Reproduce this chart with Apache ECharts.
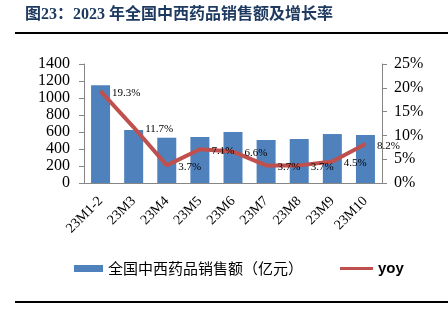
<!DOCTYPE html>
<html>
<head>
<meta charset="utf-8">
<script src="https://cdn.jsdelivr.net/npm/echarts@6/dist/echarts.min.js"></script>
<style>
  html, body { margin: 0; padding: 0; background: #fff; }
  #chart { width: 448px; height: 323px; }
</style>
</head>
<body>
<div id="chart"></div>
<script>
// Monthly national pharmaceutical sales, 2023 (100 million yuan) and YoY growth (%)
const categories = ['23M1-2', '23M3', '23M4', '23M5', '23M6', '23M7', '23M8', '23M9', '23M10'];
const salesValues = [1150, 624, 533, 541, 600, 506, 518, 576, 565];
const yoyValues = [19.3, 11.7, 3.7, 7.1, 6.6, 3.7, 3.7, 4.5, 8.2];
const leftTicks = { min: 0, max: 1400, interval: 200 };
const rightTicks = { min: 0, max: 25, interval: 5 };

const serif = "'Liberation Serif', 'Times New Roman', serif";
const lineRed = '#c0504d';
const chart = echarts.init(document.getElementById('chart'), null, { renderer: 'canvas' });

chart.setOption({
  animation: false,
  backgroundColor: '#ffffff',
  grid: { left: 84, right: 66, top: 64, bottom: 140, containLabel: false },
  graphic: [
    {
      type: 'text', left: 25, top: 7,
      style: {
        text: '图23：2023 年全国中西药品销售额及增长率',
        font: "bold 16px 'Liberation Serif', 'Noto Sans CJK SC', serif",
        fill: '#1f3a60'
      }
    },
    { type: 'rect', shape: { x: 15, y: 32, width: 433, height: 2 }, style: { fill: '#000' } },
    { type: 'rect', shape: { x: 15, y: 301, width: 433, height: 2 }, style: { fill: '#000' } }
  ],
  legend: [
    {
      left: 69, top: 256,
      itemWidth: 29, itemHeight: 7,
      textStyle: { fontFamily: "'Noto Sans CJK SC', sans-serif", fontSize: 15, color: '#000' },
      data: [{ name: '全国中西药品销售额（亿元）', icon: 'rect' }]
    },
    {
      left: 335, top: 256,
      itemWidth: 33, itemHeight: 3,
      textStyle: { fontFamily: "'Liberation Sans', Arial, sans-serif", fontWeight: 'bold', fontSize: 15, color: '#000' },
      data: [{ name: 'yoy', icon: 'rect', itemStyle: { color: lineRed, opacity: 1 } }]
    }
  ],
  xAxis: {
    type: 'category',
    data: categories,
    axisLine: { show: true, lineStyle: { color: '#868686', width: 1 } },
    axisTick: { show: false },
    axisLabel: { rotate: 45, margin: 16, interval: 0, fontFamily: serif, fontSize: 14, color: '#000' }
  },
  yAxis: [
    {
      type: 'value', position: 'left',
      min: leftTicks.min, max: leftTicks.max, interval: leftTicks.interval,
      splitLine: { show: false },
      axisLine: { show: true, lineStyle: { color: '#868686' } },
      axisTick: { show: true, length: 5, lineStyle: { color: '#868686' } },
      axisLabel: { margin: 14, fontFamily: serif, fontSize: 16, color: '#000', formatter: v => String(v) }
    },
    {
      type: 'value', position: 'right',
      min: rightTicks.min, max: rightTicks.max, interval: rightTicks.interval,
      splitLine: { show: false },
      axisLine: { show: true, lineStyle: { color: '#868686' } },
      axisTick: { show: true, length: 5, lineStyle: { color: '#868686' } },
      axisLabel: { margin: 12, fontFamily: serif, fontSize: 16, color: '#000', formatter: '{value}%' }
    }
  ],
  series: [
    {
      name: '全国中西药品销售额（亿元）',
      type: 'bar',
      yAxisIndex: 0,
      barWidth: 19,
      itemStyle: { color: '#4f81bd' },
      data: salesValues
    },
    {
      name: 'yoy',
      type: 'line',
      yAxisIndex: 1,
      symbol: 'circle',
      symbolSize: 1,
      showSymbol: true,
      lineStyle: { color: lineRed, width: 4 },
      itemStyle: { color: 'rgba(0,0,0,0)', borderWidth: 0 },
      label: {
        show: true, position: 'right', distance: 11, offset: [0, 2],
        fontFamily: serif, fontSize: 11, color: '#000',
        formatter: p => p.value.toFixed(1) + '%'
      },
      data: yoyValues
    }
  ]
});
</script>
</body>
</html>
